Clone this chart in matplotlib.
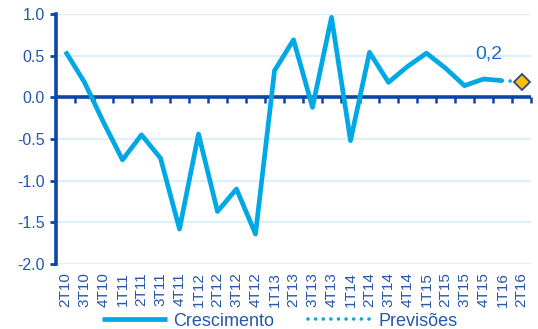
import matplotlib
matplotlib.use("Agg")
import matplotlib.pyplot as plt
import numpy as np

plt.rcParams['font.family'] = ['Liberation Sans', 'DejaVu Sans']

categories = ['2T10', '3T10', '4T10', '1T11', '2T11', '3T11', '4T11', '1T12',
              '2T12', '3T12', '4T12', '1T13', '2T13', '3T13', '4T13', '1T14',
              '2T14', '3T14', '4T14', '1T15', '2T15', '3T15', '4T15', '1T16',
              '2T16']
growth = [0.55, 0.18, -0.30, -0.75, -0.45, -0.73, -1.58, -0.44, -1.37, -1.10,
          -1.64, 0.32, 0.69, -0.12, 0.96, -0.52, 0.54, 0.18, 0.37, 0.53,
          0.35, 0.14, 0.22, 0.20]
forecast_cats = ['1T16', '2T16']
forecast = [0.20, 0.19]
forecast_label = '0,2'

LINE = '#00A9E6'
AXIS = '#0B47A8'
TEXT = '#2457AE'
GRID = '#D4EEFA'

fig = plt.figure(figsize=(5.38, 3.29), dpi=100)
ax = fig.add_axes([56/538, 1-264/329, 475/538, 250/329])

x_all = np.arange(len(categories))
idx = {c: i for i, c in enumerate(categories)}
xg = x_all[:len(growth)]
xf = [idx[c] for c in forecast_cats]

ax.plot(xg, growth, color=LINE, lw=3.4, solid_joinstyle='round',
        solid_capstyle='butt', label='Crescimento', zorder=3, clip_on=False)
ax.plot(xf, forecast, color=LINE, lw=2.6, linestyle=(0, (0.01, 2.1)),
        dash_capstyle='round', label='Previsões', zorder=3)
ax.plot(xf[-1:], forecast[-1:], marker='D', ms=8, mfc='#FFC000',
        mec='#2E4A7E', mew=1.3, linestyle='none', zorder=4)
ax.text(xf[-1] - 1.7, forecast[-1] + 0.33, forecast_label, color='#1F6DC0',
        fontsize=14, ha='center', va='center')

ax.set_xlim(-0.5, len(categories) - 0.5)
ax.set_ylim(-2.0, 1.0)
yt = np.arange(-2.0, 1.01, 0.5)
ax.set_yticks(yt)
ax.set_yticklabels([f'{v:.1f}' for v in yt])
ax.yaxis.grid(True, color=GRID, lw=1.2)
ax.set_axisbelow(True)

ax.set_xticks(x_all)
ax.set_xticklabels(categories, rotation=90)
ax.tick_params(axis='x', length=0, pad=6, labelsize=11, labelcolor=TEXT)
ax.tick_params(axis='y', length=4, width=2, color=AXIS, direction='out',
               pad=4, labelsize=11.5, labelcolor=TEXT)

for s in ['top', 'right', 'bottom']:
    ax.spines[s].set_visible(False)
ax.spines['left'].set_color(AXIS)
ax.spines['left'].set_linewidth(2.6)

# zero axis line with small category-boundary ticks
ax.axhline(0, color=AXIS, lw=2.6, zorder=2)
tick_len = 4 / 83.3
ax.vlines(x_all + 0.5, 0, -tick_len - 0.015, color=AXIS, lw=1.8, zorder=2,
          clip_on=False)

leg = fig.legend(loc='center', bbox_to_anchor=(280/538, 1 - 321/329), ncol=2,
                 frameon=False, fontsize=13, handlelength=3.6,
                 handletextpad=0.35, columnspacing=1.85)
for t in leg.get_texts():
    t.set_color(TEXT)

fig.savefig('out.png', dpi=100)
